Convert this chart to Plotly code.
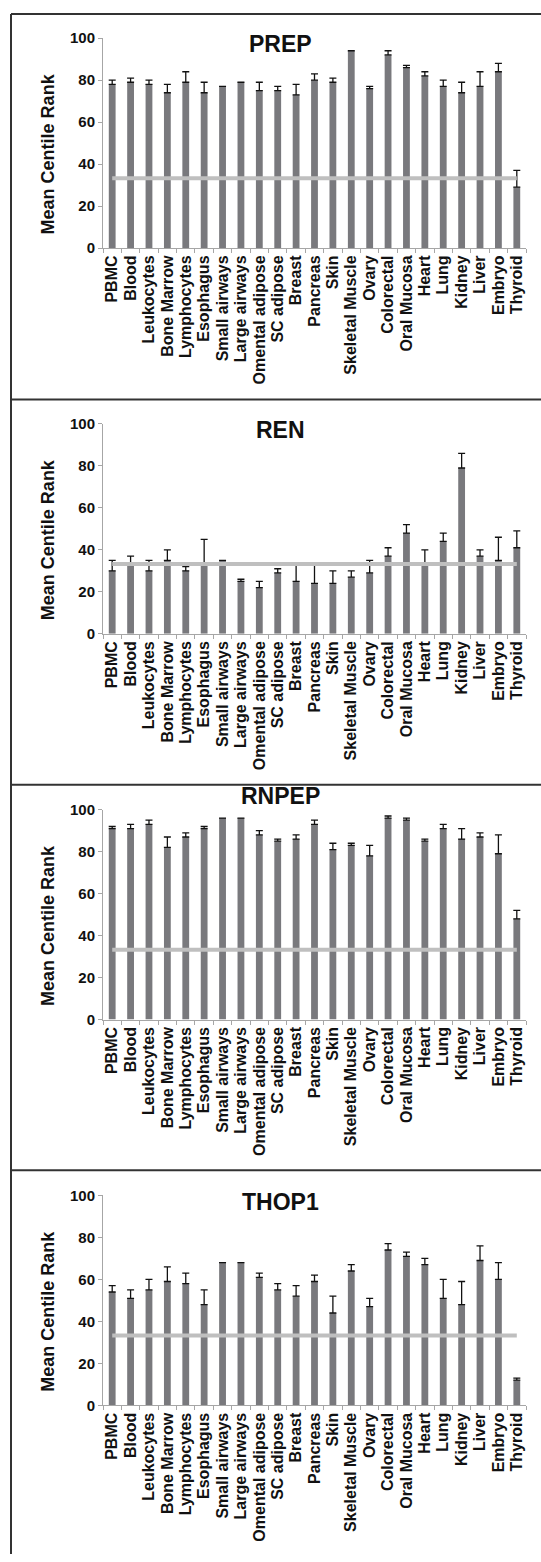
import plotly.graph_objects as go

W, H = 541, 1562

categories = ["PBMC", "Blood", "Leukocytes", "Bone Marrow", "Lymphocytes", "Esophagus",
              "Small airways", "Large airways", "Omental adipose", "SC adipose", "Breast",
              "Pancreas", "Skin", "Skeletal Muscle", "Ovary", "Colorectal", "Oral Mucosa",
              "Heart", "Lung", "Kidney", "Liver", "Embryo", "Thyroid"]

genes = ["PREP", "REN", "RNPEP", "THOP1"]

prep_mean = [78, 79, 78, 74, 79, 74, 77, 79, 75, 75, 73, 80, 79, 94, 76, 92, 86, 82, 77, 74, 77, 84, 29]
prep_err = [2, 2, 2, 4, 5, 5, 0, 0, 4, 2, 5, 3, 2, 0, 1, 2, 1, 2, 3, 5, 7, 4, 8]

ren_mean = [30, 33, 30, 35, 30, 33, 35, 25, 22, 29, 25, 24, 24, 27, 29, 37, 48, 33, 44, 79, 37, 35, 41]
ren_err = [5, 4, 5, 5, 2, 12, 0, 1, 3, 2, 8, 9, 6, 3, 6, 4, 4, 7, 4, 7, 3, 11, 8]

rnpep_mean = [91, 91, 93, 82, 87, 91, 96, 96, 88, 85, 86, 93, 81, 83, 78, 96, 95, 85, 91, 86, 87, 79, 48]
rnpep_err = [1, 2, 2, 5, 2, 1, 0, 0, 2, 1, 2, 2, 3, 1, 5, 1, 1, 1, 2, 5, 2, 9, 4]

thop1_mean = [54, 51, 55, 59, 58, 48, 68, 68, 61, 55, 52, 59, 44, 64, 47, 74, 71, 67, 51, 48, 69, 60, 12]
thop1_err = [3, 4, 5, 7, 5, 7, 0, 0, 2, 3, 5, 3, 8, 3, 4, 3, 2, 3, 9, 11, 7, 8, 1]

threshold = [33.3] * len(categories)

means = [prep_mean, ren_mean, rnpep_mean, thop1_mean]
errs = [prep_err, ren_err, rnpep_err, thop1_err]

PANEL_STEP = 390
Y100 = 29.5
Y0 = 241.7
X_LEFT = 103
X_RIGHT = 526
TITLE_Y = [35.5, 36, 16, 36]

FONT = "Liberation Sans, Arial, sans-serif"
BAR_COLOR = "#79797d"
AXIS_COLOR = "#a6a6a6"

fig = go.Figure()
annotations = []
shapes = []

for k in range(4):
    ax = "" if k == 0 else str(k + 1)
    xa, ya = "x" + ax, "y" + ax
    fig.add_trace(go.Bar(
        x=categories, y=means[k], xaxis=xa, yaxis=ya,
        marker=dict(color=BAR_COLOR, line=dict(width=0)),
        error_y=dict(type="data", symmetric=False, array=errs[k],
                     arrayminus=[0] * len(categories),
                     color="#111111", thickness=1.3, width=3.5),
        showlegend=False,
    ))
    fig.add_trace(go.Scatter(
        x=categories, y=threshold, xaxis=xa, yaxis=ya, mode="lines",
        line=dict(color="#bfbfbf", width=4), showlegend=False,
    ))
    top = Y100 + PANEL_STEP * k
    bot = Y0 + PANEL_STEP * k
    fig.update_layout(**{
        "xaxis" + ax: dict(
            domain=[X_LEFT / W, X_RIGHT / W], anchor=ya,
            tickmode="array", tickvals=categories, ticktext=categories,
            showline=True, linecolor=AXIS_COLOR, linewidth=1,
            ticks="outside", tickson="boundaries", ticklen=4, tickcolor=AXIS_COLOR,
            tickangle=-90, showgrid=False, zeroline=False,
            tickfont=dict(family=FONT, size=16, color="#111111", weight="bold"),
        ),
        "yaxis" + ax: dict(
            domain=[1 - bot / H, 1 - top / H], anchor=xa, range=[0, 100],
            tickvals=[0, 20, 40, 60, 80, 100],
            showline=True, linecolor=AXIS_COLOR, linewidth=1,
            ticks="outside", ticklen=4, tickcolor=AXIS_COLOR,
            showgrid=False, zeroline=False,
            tickfont=dict(family=FONT, size=15, color="#111111", weight="bold"),
        ),
    })
    annotations.append(dict(
        text="<b>" + genes[k] + "</b>", xref="paper", yref="paper",
        x=280 / W, y=1 - (TITLE_Y[k] + PANEL_STEP * k) / H,
        xanchor="center", yanchor="middle", showarrow=False,
        font=dict(family=FONT, size=23, color="#111111"),
    ))
    annotations.append(dict(
        text="<b>Mean Centile Rank</b>", xref="paper", yref="paper",
        x=48 / W, y=1 - (147 + PANEL_STEP * k) / H, textangle=-90,
        xanchor="center", yanchor="middle", showarrow=False,
        font=dict(family=FONT, size=18, color="#111111"),
    ))
    ysep = 5 + 389.7 * k
    shapes.append(dict(type="line", xref="paper", yref="paper",
                       x0=11 / W, x1=1.0, y0=1 - ysep / H, y1=1 - ysep / H,
                       line=dict(color="#333333", width=2)))

shapes.append(dict(type="line", xref="paper", yref="paper",
                   x0=11 / W, x1=11 / W, y0=1 - 5 / H, y1=0,
                   line=dict(color="#333333", width=2)))

fig.update_layout(
    width=W, height=H, margin=dict(l=0, r=0, t=0, b=0),
    paper_bgcolor="white", plot_bgcolor="white",
    bargap=0.63, annotations=annotations, shapes=shapes,
    font=dict(family=FONT, color="#111111"),
)

fig.write_html("out.html", config={"displayModeBar": False},
               post_script="document.body.style.margin='0';document.body.style.overflow='hidden';")
